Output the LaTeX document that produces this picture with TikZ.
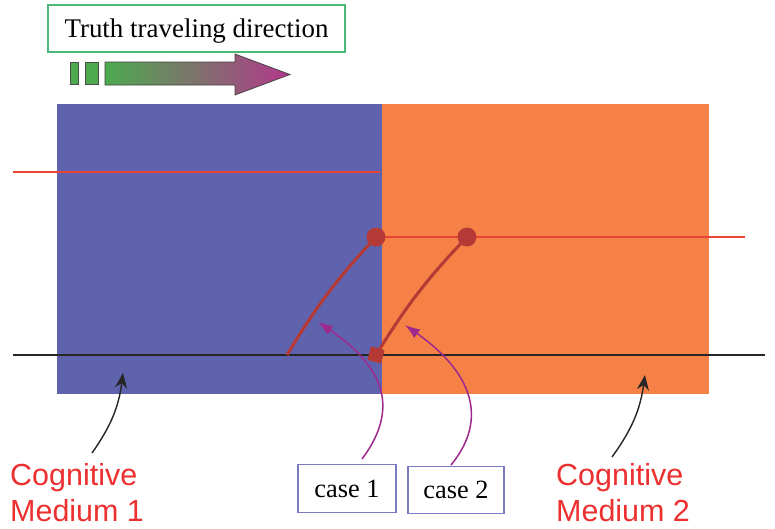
\documentclass[tikz,border=0pt]{standalone}
\usepackage{fontspec}
\setmainfont{Liberation Serif}
\setsansfont{Liberation Sans}
\usetikzlibrary{arrows.meta,positioning,calc}

\definecolor{mediumblue}{RGB}{95,99,173}
\definecolor{mediumorange}{RGB}{245,129,71}
\definecolor{rayred}{RGB}{234,68,54}
\definecolor{darkred}{RGB}{181,58,53}
\definecolor{pointer}{RGB}{158,42,142}
\definecolor{titlegreen}{RGB}{76,184,122}
\definecolor{casebord}{RGB}{123,123,196}
\definecolor{labelred}{RGB}{236,47,47}
\definecolor{arrgreen}{RGB}{77,170,79}
\definecolor{arrmid}{RGB}{150,118,178}
\definecolor{arrmag}{RGB}{178,56,140}

\tikzset{
  titlebox/.style={draw=titlegreen, line width=0.9pt, minimum width=8.91cm, minimum height=1.41cm,
    font=\fontsize{23}{27}\selectfont},
  casebox/.style={draw=casebord, line width=1pt, minimum height=1.42cm,
    font=\fontsize{22.5}{26}\selectfont},
  mediumlabel/.style={text=labelred, align=left, anchor=north west, inner sep=0pt,
    font=\sffamily\fontsize{26}{30.5}\selectfont},
  pointerarrow/.style={draw=pointer, line width=1.3pt, -{Latex[length=4.5mm,width=3.2mm]}},
  blackarrow/.style={draw=black!85, line width=1.2pt, -{Stealth[length=4.5mm,width=3.6mm]}},
  refraction/.style={draw=darkred, line width=2.6pt},
  ray/.style={draw=rayred, line width=1.9pt},
}

\begin{document}
\begin{tikzpicture}[x=0.03cm,y=-0.03cm]
  \useasboundingbox (0,0) rectangle (775,529);

  % 1. two media
  \fill[mediumblue] (57,104) rectangle (382,394);
  \fill[mediumorange] (382,104) rectangle (709,394);

  % 2. title and traveling arrow
  \node[titlebox, text depth=0.12cm, text height=0.68cm] (title) at (196.5,28.5) {Truth traveling direction};
  \fill[arrgreen, draw=black!70, line width=0.6pt] (70,62) rectangle (78,84);
  \fill[arrgreen, draw=black!70, line width=0.6pt] (85,62) rectangle (98,84);
  \shade[left color=arrgreen, middle color=arrmid, right color=arrmag, draw=black!75, line width=0.6pt]
    (105,62) -- (235,62) -- (235,54) -- (290,74.5) -- (235,95) -- (235,85) -- (105,85) -- cycle;

  % 3. rays and interface
  \coordinate (ray1a) at (13,172);
  \coordinate (ray1b) at (380,172);
  \coordinate (ray2a) at (376,237);
  \coordinate (ray2b) at (745,237);
  \coordinate (axisl) at (13,355);
  \coordinate (axisr) at (765,355);
  \draw[ray] (ray1a) -- (ray1b);
  \draw[ray] (ray2a) -- (ray2b);
  \draw[black!85, line width=1.2pt] (axisl) -- (axisr);

  % 4. the two cases
  \coordinate (foot1) at (287,355);
  \coordinate (foot2) at (376,355);
  \coordinate (top2) at (467,237);
  \draw[refraction] (foot1) to[bend left=6] (ray2a);
  \draw[refraction] (foot2) to[bend left=6] (top2);
  \fill[darkred] (ray2a) circle (9.5);
  \fill[darkred] (top2) circle (9.5);
  \fill[darkred, rotate around={-15:(foot2)}] ($(foot2)+(-7,-7)$) rectangle ($(foot2)+(7,7)$);

  % 5. case labels with pointers
  \node[casebox, minimum width=2.94cm] (case1) at (347,488.5) {case 1};
  \node[casebox, minimum width=2.88cm] (case2) at (456,490) {case 2};
  \coordinate (tail1) at (362,459);
  \coordinate (tip1) at (318,322);
  \coordinate (tail2) at (451,465);
  \coordinate (tip2) at (405,325);
  \draw[pointerarrow] (tail1) .. controls (395,415) and (392,372) .. (tip1);
  \draw[pointerarrow] (tail2) .. controls (484,425) and (480,378) .. (tip2);

  % 6. medium labels
  \node[mediumlabel] (med1) at (10,463) {Cognitive\\Medium 1};
  \node[mediumlabel] (med2) at (556,463) {Cognitive\\Medium 2};
  \coordinate (mtail1) at (92,453);
  \coordinate (mtip1) at (123,373);
  \coordinate (mtail2) at (612,457);
  \coordinate (mtip2) at (645,375);
  \draw[blackarrow] (mtail1) to[bend right=14] (mtip1);
  \draw[blackarrow] (mtail2) to[bend right=14] (mtip2);
\end{tikzpicture}
\end{document}
